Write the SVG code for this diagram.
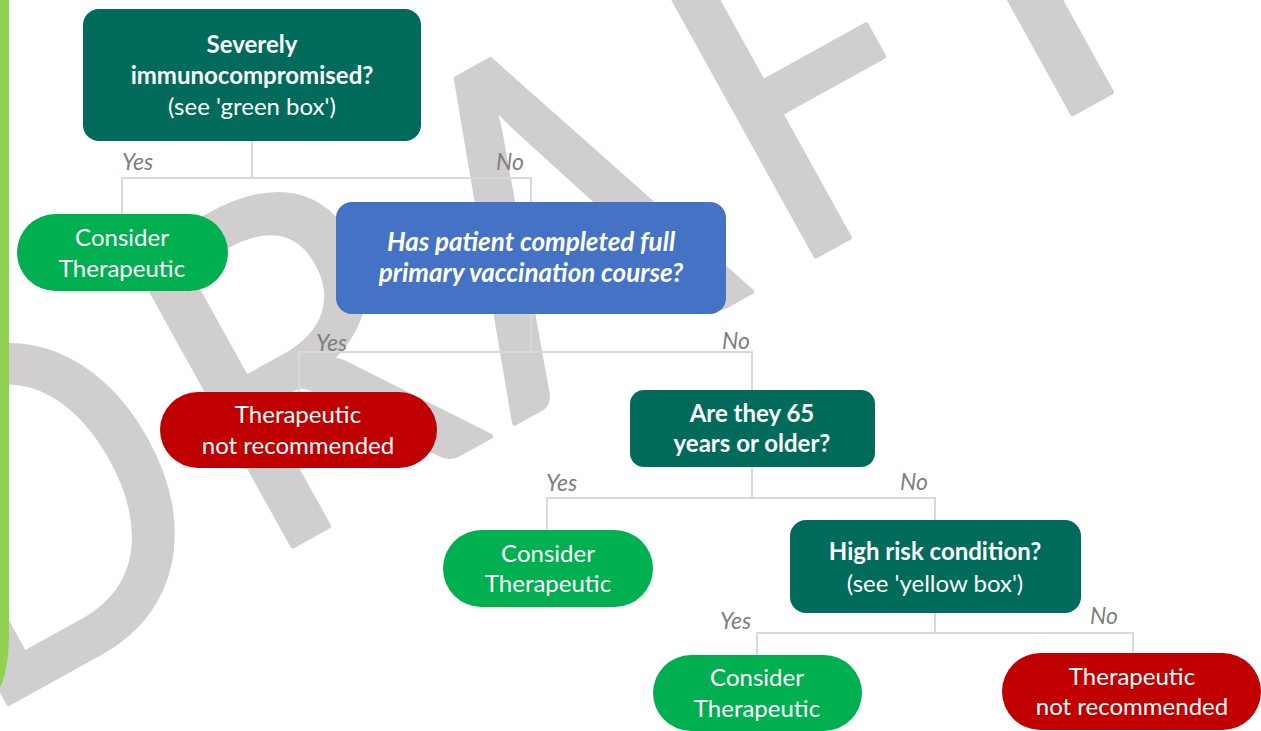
<svg xmlns="http://www.w3.org/2000/svg" width="1261" height="731" viewBox="0 0 1261 731">
<style>
.wm text { font-family: Lato, "Liberation Sans", sans-serif; font-size: 460px; fill: #D0CECE; stroke: #D0CECE; stroke-width: 5; stroke-linejoin: round; }
.conn { fill: none; stroke: #D9D9D9; stroke-width: 2; }
.lbl { font-family: Lato, "Liberation Sans", sans-serif; font-style: italic; font-size: 23px; fill: #7F7F7F; }
.t { font-family: Lato, "Liberation Sans", sans-serif; font-size: 24px; fill: #FFFFFF; text-anchor: middle; }
.b { font-weight: bold; }
.bi { font-weight: bold; font-style: italic; font-size: 26px; }
.q { fill: #006B5A; }
.blue { fill: #4472C4; }
.go { fill: #00B050; }
.no { fill: #C00000; }
</style>
<g id="watermark" class="wm" transform="translate(8,705) rotate(-29)">
<text transform="translate(0,-1) scale(0.87,1)" x="-41" y="0">D</text>
<text transform="translate(325,-1) scale(0.93,1)" x="-41" y="0">R</text>
<text transform="translate(580,-1) scale(0.88,1)" x="-2" y="0">A</text>
<text transform="translate(923,-1) scale(0.87,1)" x="-41" y="0">F</text>
<text x="1104" y="-1">T</text>
</g>
<path id="sidebar" d="M0,0 H9 V632 Q9,668 0,688 Z" fill="#92D050"/>
<g id="connectors" class="conn">
<path d="M252,141 V178 M122,214 V178 H531 V202"/>
<path d="M531,314 V352 M299,392 V352 H752 V390"/>
<path d="M752,467 V498 M547,530 V498 H935 V520"/>
<path d="M935,613 V633 M757,655 V633 H1133 V653"/>
</g>
<g id="labels" class="lbl">
<text x="122" y="170">Yes</text>
<text x="496" y="170">No</text>
<text x="316" y="351">Yes</text>
<text x="722" y="349">No</text>
<text x="546" y="491">Yes</text>
<text x="900" y="490">No</text>
<text x="720" y="629">Yes</text>
<text x="1090" y="624">No</text>
</g>
<g id="q-immuno">
<rect class="q" x="83" y="9" width="338" height="132" rx="16"/>
<text class="t b" x="252" y="53">Severely</text>
<text class="t b" x="252" y="84">immunocompromised?</text>
<text class="t" x="252" y="115">(see 'green box')</text>
</g>
<g id="out-consider-1">
<rect class="go" x="17" y="214" width="211" height="77" rx="38.5"/>
<text class="t" x="122" y="246">Consider</text>
<text class="t" x="122" y="277">Therapeutic</text>
</g>
<g id="q-vaccination">
<rect class="blue" x="336" y="202" width="390" height="112" rx="16"/>
<text class="t bi" x="531" y="251">Has patient completed full</text>
<text class="t bi" x="531" y="282">primary vaccination course?</text>
</g>
<g id="out-notrec-1">
<rect class="no" x="160" y="392" width="277" height="76" rx="38"/>
<text class="t" x="298" y="423">Therapeutic</text>
<text class="t" x="298" y="454">not recommended</text>
</g>
<g id="q-age">
<rect class="q" x="630" y="390" width="245" height="77" rx="14"/>
<text class="t b" x="752" y="422">Are they 65</text>
<text class="t b" x="752" y="452">years or older?</text>
</g>
<g id="out-consider-2">
<rect class="go" x="443" y="530" width="210" height="77" rx="38.5"/>
<text class="t" x="548" y="562">Consider</text>
<text class="t" x="548" y="592">Therapeutic</text>
</g>
<g id="q-highrisk">
<rect class="q" x="790" y="520" width="291" height="93" rx="16"/>
<text class="t b" x="935" y="560">High risk condition?</text>
<text class="t" x="935" y="592">(see 'yellow box')</text>
</g>
<g id="out-consider-3">
<rect class="go" x="653" y="655" width="209" height="76" rx="38"/>
<text class="t" x="757" y="686">Consider</text>
<text class="t" x="757" y="717">Therapeutic</text>
</g>
<g id="out-notrec-2">
<rect class="no" x="1002" y="653" width="259" height="77" rx="38.5"/>
<text class="t" x="1132" y="685">Therapeutic</text>
<text class="t" x="1132" y="715">not recommended</text>
</g>
</svg>
